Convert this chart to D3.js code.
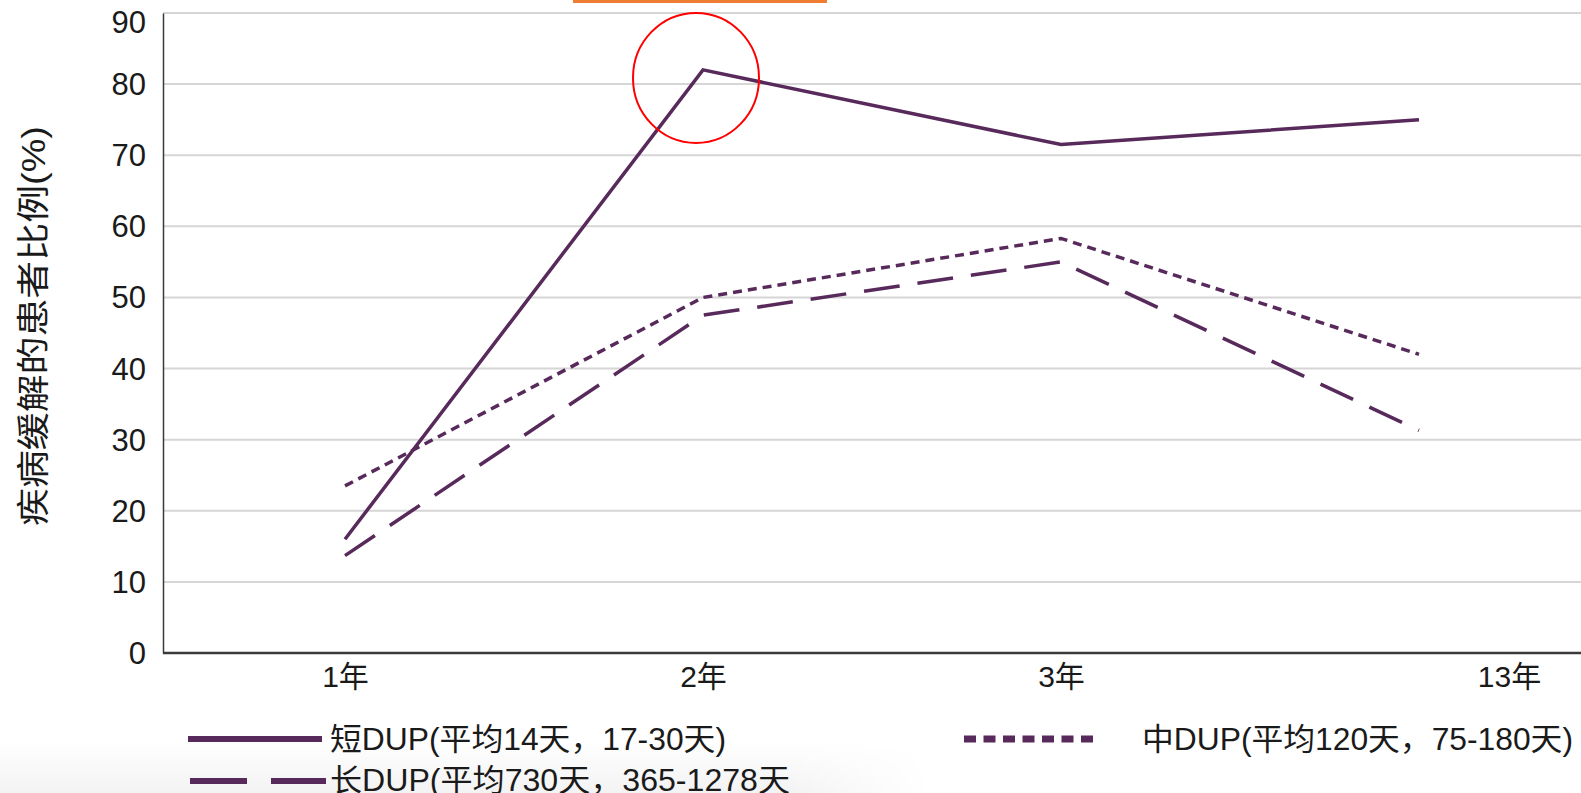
<!DOCTYPE html>
<html>
<head>
<meta charset="utf-8">
<script src="https://cdn.jsdelivr.net/npm/d3@7"></script>
<style>
  html, body { margin: 0; padding: 0; background: #ffffff; }
  svg { display: block; }
  text { font-family: "Liberation Sans", Arial, "Noto Sans CJK SC", sans-serif; fill: #1a1a1a; }
</style>
</head>
<body>
<div id="chart"></div>
<script>
// ---- data ----
const categories = ["1年", "2年", "3年", "13年"];
const shortDUP = [16, 82, 71.5, 75];
const midDUP = [23.5, 50, 58.3, 42];
const longDUP = [13.7, 47.5, 55, 31.3];
const yTicks = [0, 10, 20, 30, 40, 50, 60, 70, 80, 90];
const yLabel = "疾病缓解的患者比例(%)";
const legendShort = "短DUP(平均14天，17-30天)";
const legendMid = "中DUP(平均120天，75-180天)";
const legendLong = "长DUP(平均730天，365-1278天";

// ---- layout ----
const W = 1581, H = 793;
const mLeft = 163, mTop = 13, mBottom = 653;
const color = "#582a5b";

const svg = d3.select("#chart").append("svg").attr("width", W).attr("height", H);

// faint slide shadow at bottom
const defs = svg.append("defs");
const grad = defs.append("linearGradient").attr("id", "shade").attr("x1", 0).attr("x2", 0).attr("y1", 0).attr("y2", 1);
grad.append("stop").attr("offset", "0%").attr("stop-color", "#ffffff");
grad.append("stop").attr("offset", "100%").attr("stop-color", "#f3f3f3");
const gradH = defs.append("linearGradient").attr("id", "fadeR").attr("x1", 0).attr("x2", 1).attr("y1", 0).attr("y2", 0);
gradH.append("stop").attr("offset", "85%").attr("stop-color", "#fff").attr("stop-opacity", 1);
gradH.append("stop").attr("offset", "100%").attr("stop-color", "#fff").attr("stop-opacity", 0);
const mask = defs.append("mask").attr("id", "m");
mask.append("rect").attr("x", 0).attr("y", 740).attr("width", 930).attr("height", 53).attr("fill", "url(#fadeR)");
svg.append("rect").attr("x", 0).attr("y", 740).attr("width", 930).attr("height", 53)
  .attr("fill", "url(#shade)").attr("mask", "url(#m)");

const x = d3.scalePoint().domain(categories).range([345, 1419]);
const y = d3.scaleLinear().domain([0, 90]).range([mBottom, mTop]);

// gridlines
svg.append("g").selectAll("line").data(yTicks.filter(t => t > 0)).join("line")
  .attr("x1", mLeft).attr("x2", W)
  .attr("y1", d => y(d)).attr("y2", d => y(d))
  .attr("stroke", "#d6d6d6").attr("stroke-width", 2);

// y axis
const yAxis = svg.append("g").attr("transform", `translate(${mLeft},0)`)
  .call(d3.axisLeft(y).tickValues(yTicks).tickSize(0).tickPadding(17));
yAxis.select(".domain").attr("stroke", "#3a3a3a").attr("stroke-width", 1.5);
yAxis.selectAll("text").style("font-size", "31px").attr("fill", "#1a1a1a")
  .attr("dy", d => d === 90 ? "0.62em" : "0.34em");

// x axis
const xAxis = svg.append("g").attr("transform", `translate(0,${mBottom})`)
  .call(d3.axisBottom(x).tickSize(0).tickPadding(13));
xAxis.select(".domain").attr("d", `M${mLeft},0H${W}`).attr("stroke", "#3a3a3a").attr("stroke-width", 2.5);
xAxis.selectAll("text").style("font-size", "30px").attr("fill", "#1a1a1a")
  .attr("dx", d => d === "13年" ? 90 : 0);

// y label
svg.append("text")
  .attr("transform", `translate(45,326) rotate(-90)`)
  .attr("text-anchor", "middle")
  .style("font-size", "33px")
  .attr("textLength", 400).attr("lengthAdjust", "spacingAndGlyphs")
  .text(yLabel);

// lines
const line = d3.line().x((d, i) => x(categories[i])).y(d => y(d));
svg.append("path").datum(longDUP).attr("d", line)
  .attr("fill", "none").attr("stroke", color).attr("stroke-width", 3.5)
  .attr("stroke-dasharray", "36,18");
svg.append("path").datum(midDUP).attr("d", line)
  .attr("fill", "none").attr("stroke", color).attr("stroke-width", 3.5)
  .attr("stroke-dasharray", "9,6");
svg.append("path").datum(shortDUP).attr("d", line)
  .attr("fill", "none").attr("stroke", color).attr("stroke-width", 3.5)
  .attr("stroke-linejoin", "miter");

// annotation: orange bar & red circle
svg.append("rect").attr("x", 573).attr("y", 0).attr("width", 254).attr("height", 3).attr("fill", "#ef7d31");
svg.append("ellipse").attr("cx", x("2年") - 7).attr("cy", y(82) + 8).attr("rx", 63).attr("ry", 65)
  .attr("fill", "none").attr("stroke", "#ff0000").attr("stroke-width", 2);

// legend
const lg = svg.append("g");
lg.append("line").attr("x1", 188).attr("x2", 322).attr("y1", 739).attr("y2", 739)
  .attr("stroke", color).attr("stroke-width", 6);
lg.append("line").attr("x1", 190).attr("x2", 326).attr("y1", 781).attr("y2", 781)
  .attr("stroke", color).attr("stroke-width", 6).attr("stroke-dasharray", "57,24");
lg.append("line").attr("x1", 964).attr("x2", 1100).attr("y1", 739).attr("y2", 739)
  .attr("stroke", color).attr("stroke-width", 7).attr("stroke-dasharray", "12,7.5");

lg.append("text").attr("x", 330).attr("y", 750).style("font-size", "31px")
  .attr("textLength", 396).attr("lengthAdjust", "spacingAndGlyphs").text(legendShort);
lg.append("text").attr("x", 330).attr("y", 791).style("font-size", "31px")
  .attr("textLength", 460).attr("lengthAdjust", "spacingAndGlyphs").text(legendLong);
lg.append("text").attr("x", 1142).attr("y", 750).style("font-size", "31px")
  .attr("textLength", 431).attr("lengthAdjust", "spacingAndGlyphs").text(legendMid);
</script>
</body>
</html>
